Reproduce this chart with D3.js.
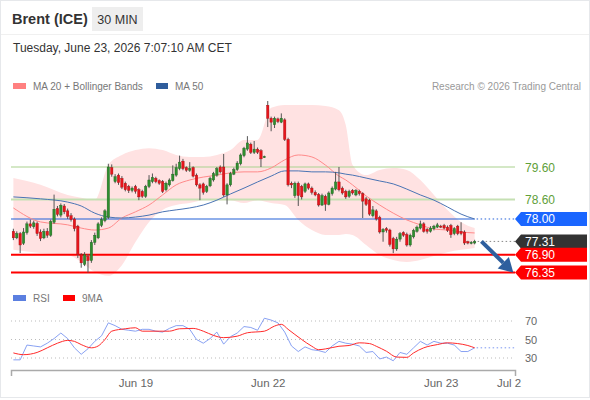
<!DOCTYPE html>
<meta charset="utf-8">
<body style="margin:0;background:#fff">
<script src="https://d3js.org/d3.v7.min.js"></script>
<script>

// ---- data ----
const open = [77.62,77.42,77.55,77.25,77.58,77.85,77.76,77.86,77.60,77.42,
  77.62,77.50,77.90,78.32,78.12,78.40,78.25,78.10,78.00,77.78,
  76.90,76.60,76.85,76.72,77.28,77.42,77.80,77.95,78.05,79.58,
  79.15,79.35,79.25,79.10,79.00,78.88,79.00,78.90,78.85,78.70,
  79.00,79.15,79.25,79.18,79.15,78.90,79.05,79.18,79.35,79.55,
  79.78,79.58,79.50,79.58,79.35,79.05,79.08,78.85,79.02,79.20,
  79.35,79.60,79.60,78.74,79.05,79.38,79.52,79.70,79.95,80.15,
  80.30,80.05,80.15,80.10,79.90,81.50,81.10,80.90,81.08,80.98,
  81.05,80.45,79.10,78.72,79.10,79.00,78.85,79.08,78.95,78.82,
  78.75,78.43,78.70,78.45,78.78,78.92,79.14,78.95,78.85,78.70,
  78.88,78.74,78.85,78.78,78.62,78.58,78.10,78.25,78.05,77.60,
  77.70,77.66,77.40,77.08,77.38,77.58,77.52,77.20,77.45,77.62,
  77.72,77.85,77.68,77.62,77.70,77.75,77.78,77.80,77.75,77.80,
  77.55,77.78,77.62,77.60,77.30,77.26,77.26];
const high = [77.70,77.62,77.60,77.72,77.92,77.98,77.95,77.92,77.68,77.70,
  77.72,77.98,78.75,78.40,78.48,78.46,78.32,78.18,78.05,77.82,
  76.95,76.98,76.92,77.35,77.58,77.90,78.05,78.30,79.70,79.68,
  79.38,79.40,79.32,79.15,79.05,79.00,79.05,78.95,78.90,79.05,
  79.35,79.40,79.30,79.22,79.20,79.15,79.25,79.65,79.70,79.95,
  79.85,79.62,79.75,79.62,79.40,79.10,79.12,79.05,79.30,79.45,
  79.60,79.65,80.00,79.10,79.45,79.58,79.78,80.02,80.22,80.55,
  80.35,80.40,80.20,80.15,79.95,81.63,81.15,81.15,81.12,81.25,
  81.10,80.50,79.15,79.15,79.15,79.05,79.12,79.12,79.00,78.88,
  78.80,78.78,78.75,78.85,79.00,79.45,79.60,79.00,78.90,78.90,
  78.92,78.92,78.90,78.82,78.68,78.62,78.40,78.30,78.10,77.72,
  77.75,77.70,77.45,77.45,77.60,77.62,77.58,77.55,77.70,77.80,
  77.95,77.90,77.72,77.78,77.82,77.88,77.82,77.85,77.80,77.85,
  77.75,77.82,77.90,77.65,77.33,77.32,77.36];
const low = [77.35,77.38,76.95,77.20,77.52,77.72,77.70,77.48,77.32,77.38,
  77.42,77.45,77.85,78.08,78.05,78.15,78.00,77.92,77.62,76.80,
  76.50,76.55,76.35,76.65,77.20,77.38,77.75,77.90,78.00,79.30,
  79.10,79.05,78.92,78.85,78.80,78.82,78.78,78.58,78.65,78.65,
  78.95,79.10,79.10,79.05,78.80,78.85,79.00,79.15,79.30,79.50,
  79.50,79.45,79.45,79.28,79.00,78.58,78.75,78.80,78.98,79.15,
  79.30,79.40,78.68,78.45,79.00,79.35,79.48,79.65,79.90,80.10,
  80.00,80.00,80.00,79.60,79.88,80.83,80.70,80.80,80.95,80.95,
  80.40,79.00,78.95,78.65,78.40,78.60,78.80,78.90,78.75,78.70,
  78.38,78.40,78.25,78.42,78.72,78.88,78.85,78.75,78.62,78.65,
  78.75,78.70,78.72,78.03,78.40,78.10,78.05,77.95,77.55,77.30,
  77.58,77.15,76.95,77.02,77.30,77.45,77.15,77.15,77.40,77.58,
  77.68,77.58,77.55,77.58,77.65,77.72,77.72,77.68,77.60,77.42,
  77.50,77.50,77.50,77.20,77.22,77.22,77.22];
const close = [77.42,77.55,77.20,77.60,77.85,77.78,77.88,77.55,77.40,77.62,
  77.50,77.92,78.30,78.14,78.42,78.22,78.08,77.98,77.70,76.90,
  76.65,76.90,76.72,77.28,77.50,77.85,77.98,78.25,79.60,79.38,
  79.30,79.12,78.98,78.90,78.88,78.95,78.85,78.68,78.70,79.00,
  79.20,79.28,79.15,79.10,78.85,79.10,79.20,79.38,79.58,79.75,
  79.55,79.50,79.55,79.32,79.05,78.95,78.82,79.00,79.25,79.40,
  79.55,79.45,78.74,79.05,79.40,79.52,79.72,79.97,80.18,80.34,
  80.05,80.15,80.05,79.85,79.92,81.10,80.98,81.10,81.00,81.10,
  80.45,79.05,79.05,79.10,78.72,78.68,79.08,78.95,78.82,78.74,
  78.43,78.72,78.45,78.80,78.95,79.14,78.90,78.80,78.68,78.85,
  78.80,78.88,78.78,78.55,78.45,78.15,78.28,78.00,77.60,77.68,
  77.65,77.22,77.08,77.38,77.55,77.50,77.20,77.50,77.65,77.75,
  77.85,77.62,77.62,77.72,77.78,77.82,77.76,77.72,77.65,77.52,
  77.70,77.55,77.55,77.26,77.26,77.28,77.31];

// indicator samples (candle index -> value)
const maIdx = [0,8,16,20,24,28,32,36,40,44,48,52,56,60,64,68,72,76,80,84,88,92,96,98,100,104,108,112,116,120,124,128,132,136];
const bbUpper = [79.26,79.05,78.74,78.65,78.58,79.66,79.97,80.12,80.18,80.12,79.97,79.91,79.91,79.97,80.12,80.43,80.43,81.42,81.51,81.51,81.51,81.48,81.35,80.89,79.66,79.35,79.51,79.57,79.51,79.20,78.74,78.28,77.91,77.72];
const bbLower = [77.05,76.95,76.89,76.68,76.37,76.25,76.58,77.29,77.91,78.28,78.43,78.49,78.58,78.58,78.58,78.49,78.58,78.49,78.43,77.97,77.66,77.51,77.51,77.54,77.51,77.20,76.89,76.74,76.68,76.74,76.86,76.98,77.05,77.11];
const ma20 = [78.34,77.91,77.82,77.72,77.66,77.72,78.03,78.22,78.43,78.74,79.05,79.20,79.29,79.35,79.42,79.45,79.45,79.57,79.82,79.97,79.91,79.66,79.32,79.20,79.05,78.71,78.43,78.18,77.97,77.82,77.69,77.66,77.60,77.57];
const ma50 = [78.68,78.62,78.52,78.40,78.18,78.06,78.03,78.06,78.12,78.22,78.28,78.34,78.43,78.58,78.77,78.95,79.14,79.32,79.48,79.48,79.45,79.45,79.42,79.38,79.35,79.26,79.17,79.08,78.92,78.74,78.58,78.37,78.15,78.00];

// RSI every second candle, 9MA sampled
const rsiStep = 2;
const rsi = [28,28,44,43,42,46,51,57,51,41,34,40,48,54,68,65,61,60,59,61,61,59,58,62,65,65,61,50,46,51,58,45,53,57,64,63,60,73,71,68,58,43,37,42,39,38,36,43,48,46,45,43,36,37,29,31,27,36,34,41,48,44,48,46,46,44,37,37,41];
const rsiMaIdx = [0,3,7,10,13,16,18,20,23,25,27,29,33,36,38,43,46,49,53,56,59,62,66,69,74,77,79,81,85,88,90,92,96,99,102,105,107,110,113,116,118,121,125,128,131,134,136];
const rsiMa = [35.5,33.6,36,41,46,49,48,44.5,41,43,50,59,61.6,62.7,59,59,59,61.6,62,59,54.4,52,53.6,57.3,59,64.5,66.4,61,50,42.7,39,39.8,42.7,43.5,46.4,45.6,42.7,37.3,31,30.7,35.5,41,44.5,46.4,45.6,43.5,41];
const rsiLevels = [70, 50, 30];

const levels = [79.60, 78.60, 78.00, 77.31, 76.90, 76.35];
const levelKind = ["res", "res", "ma", "last", "sup", "sup"];

const tickIdx = [36, 75, 126, 146];
const tickLabels = ["Jun 19", "Jun 22", "Jun 23", "Jul 2"];

const arrowFrom = [138, 77.31], arrowTo = [147.4, 76.35];

// ---- layout ----
const W = 590, H = 400;
const font = "'Liberation Sans', Arial, sans-serif";

const x = d3.scaleLinear().domain([-0.7, 147.9]).range([11, 515]);
const y = d3.scaleLinear().domain([76.35, 79.60]).range([272.6, 167]);
const yr = d3.scaleLinear().domain([30, 70]).range([358, 321]);

const svg = d3.select("body").append("svg")
    .attr("width", W).attr("height", H)
    .style("font-family", font);

svg.append("rect")
    .attr("x", 0.5).attr("y", 0.5).attr("width", W - 1).attr("height", H - 3)
    .attr("fill", "#fff").attr("stroke", "#e6e8eb");

// header
svg.append("line").attr("x1", 1).attr("x2", W - 1).attr("y1", 34.5).attr("y2", 34.5)
    .attr("stroke", "#f0f0f0");
svg.append("text").attr("x", 12).attr("y", 24)
    .attr("font-size", 14.5).attr("font-weight", "bold").attr("fill", "#333")
    .text("Brent (ICE)");
svg.append("rect").attr("x", 92).attr("y", 7).attr("width", 51).attr("height", 24)
    .attr("fill", "#eeeeee");
svg.append("text").attr("x", 117.5).attr("y", 23.5).attr("text-anchor", "middle")
    .attr("font-size", 12.5).attr("fill", "#333").text("30 MIN");
svg.append("text").attr("x", 13).attr("y", 52)
    .attr("font-size", 12).attr("fill", "#333")
    .text("Tuesday, June 23, 2026 7:07:10 AM CET");

// legends
const legend = svg.append("g").attr("font-size", 10).attr("fill", "#777");
legend.append("rect").attr("x", 13).attr("y", 83).attr("width", 13).attr("height", 6).attr("fill", "#ff8080");
legend.append("text").attr("x", 33).attr("y", 90).text("MA 20 + Bollinger Bands");
legend.append("rect").attr("x", 156).attr("y", 83).attr("width", 12).attr("height", 6).attr("fill", "#2f5d9c");
legend.append("text").attr("x", 175).attr("y", 90).text("MA 50");
legend.append("text").attr("x", 581).attr("y", 90).attr("text-anchor", "end").attr("fill", "#999")
    .text("Research \u00a9 2026 Trading Central");
legend.append("rect").attr("x", 13).attr("y", 295).attr("width", 13).attr("height", 6).attr("fill", "#5b7fe0");
legend.append("text").attr("x", 33).attr("y", 302).text("RSI");
legend.append("rect").attr("x", 63).attr("y", 295).attr("width", 12).attr("height", 6).attr("fill", "#ff0000");
legend.append("text").attr("x", 82).attr("y", 302).text("9MA");

// ---- price chart ----
const chart = svg.append("g");

const band = d3.area()
    .x((d, i) => x(maIdx[i]))
    .y0((d, i) => y(bbLower[i]))
    .y1(d => y(d))
    .curve(d3.curveMonotoneX);
chart.append("path").datum(bbUpper).attr("d", band).attr("fill", "#ffe2e2");

const levelColor = {res: "#a9d18e", ma: "#2360d8", last: "#888", sup: "#ff0000"};
levels.forEach((v, i) => {
  const k = levelKind[i];
  if (k === "last") return;
  chart.append("line")
      .attr("x1", 11).attr("x2", k === "ma" ? x(close.length - 1) : 515)
      .attr("y1", y(v)).attr("y2", y(v))
      .attr("stroke", i === 1 ? "#c5e0b3" : levelColor[k])
      .attr("stroke-width", k === "sup" ? 2 : (i === 1 ? 2 : 1.2));
});

const lineOf = arr => d3.line()
    .x((d, i) => x(maIdx[i])).y(d => y(d))
    .curve(d3.curveMonotoneX)(arr);
chart.append("path").attr("d", lineOf(ma20)).attr("fill", "none")
    .attr("stroke", "#ff8a8a").attr("stroke-width", 1);
chart.append("path").attr("d", lineOf(ma50)).attr("fill", "none")
    .attr("stroke", "#4a74b4").attr("stroke-width", 1);

// candles
const bw = 2.4;
const candles = chart.selectAll(".c").data(close).join("g");
candles.append("line")
    .attr("x1", (d, i) => x(i)).attr("x2", (d, i) => x(i))
    .attr("y1", (d, i) => y(high[i])).attr("y2", (d, i) => y(low[i]))
    .attr("stroke", "#555").attr("stroke-width", 1);
candles.append("rect")
    .attr("x", (d, i) => x(i) - bw / 2).attr("width", bw)
    .attr("y", (d, i) => y(Math.max(open[i], d)))
    .attr("height", (d, i) => Math.max(1, Math.abs(y(open[i]) - y(d))))
    .attr("fill", (d, i) => d >= open[i] ? "#2f8f2f" : "#e8141c")
    .attr("stroke", (d, i) => d >= open[i] ? "#1f5f1f" : "#a01010")
    .attr("stroke-width", 0.4);

// dotted extensions of MA50 and last price
const last = close.length - 1;
chart.append("line").attr("x1", x(last) + 2).attr("x2", 515)
    .attr("y1", y(levels[2])).attr("y2", y(levels[2]))
    .attr("stroke", "#2360d8").attr("stroke-dasharray", "1.5,2.5");
chart.append("line").attr("x1", x(last) + 3).attr("x2", 515)
    .attr("y1", y(levels[3])).attr("y2", y(levels[3]))
    .attr("stroke", "#888").attr("stroke-dasharray", "1.5,2.5");

// arrow
const ax0 = x(arrowFrom[0]), ay0 = y(arrowFrom[1]);
const ax1 = x(arrowTo[0]), ay1 = y(arrowTo[1]);
const len = Math.hypot(ax1 - ax0, ay1 - ay0);
const ux = (ax1 - ax0) / len, uy = (ay1 - ay0) / len;
const headL = 14, headW = 8;
const bx = ax1 - ux * headL, by = ay1 - uy * headL;
chart.append("line").attr("x1", ax0).attr("y1", ay0).attr("x2", bx).attr("y2", by)
    .attr("stroke", "#2e5f9e").attr("stroke-width", 4);
chart.append("path")
    .attr("d", `M${ax1},${ay1}L${bx - uy * headW},${by + ux * headW}L${bx + uy * headW},${by - ux * headW}Z`)
    .attr("fill", "#2e5f9e");

// right labels
const boxColor = {ma: "#1a66ff", last: "#333333", sup: "#ff0000"};
levels.forEach((v, i) => {
  const k = levelKind[i], yc = y(v);
  if (k === "res") {
    chart.append("text").attr("x", 525).attr("y", yc + 4.5)
        .attr("font-size", 12).attr("fill", "#5fa03a").text(v.toFixed(2));
    return;
  }
  chart.append("path")
      .attr("d", `M515,${yc}L521,${yc - 7}H587V${yc + 7}H521Z`)
      .attr("fill", boxColor[k]);
  chart.append("text").attr("x", 525).attr("y", yc + 4.5)
      .attr("font-size", 12).attr("fill", "#fff").text(v.toFixed(2));
});

// ---- RSI panel ----
const rsiG = svg.append("g");
rsiLevels.forEach(v => {
  rsiG.append("line").attr("x1", 11).attr("x2", 515).attr("y1", yr(v)).attr("y2", yr(v))
      .attr("stroke", "#bbb").attr("stroke-dasharray", "1,3");
  rsiG.append("text").attr("x", 525).attr("y", yr(v) + 4).attr("font-size", 11)
      .attr("fill", "#666").text(v);
});
rsiG.append("path")
    .attr("d", d3.line().x((d, i) => x(i * rsiStep)).y(d => yr(d))(rsi))
    .attr("fill", "none").attr("stroke", "#7b96f0").attr("stroke-width", 0.9);
rsiG.append("line").attr("x1", x(last) + 2).attr("x2", 515)
    .attr("y1", yr(rsi[rsi.length - 1])).attr("y2", yr(rsi[rsi.length - 1]))
    .attr("stroke", "#7b96f0").attr("stroke-dasharray", "1.5,2.5");
rsiG.append("path")
    .attr("d", d3.line().x((d, i) => x(rsiMaIdx[i])).y(d => yr(d)).curve(d3.curveMonotoneX)(rsiMa))
    .attr("fill", "none").attr("stroke", "#ff2a2a").attr("stroke-width", 1);

// x axis
const xAxis = d3.axisBottom(x)
    .tickValues(tickIdx)
    .tickFormat((d, i) => tickLabels[i])
    .tickSizeInner(0).tickSizeOuter(6).tickPadding(9);
const axG = svg.append("g").attr("transform", "translate(0,370)").call(xAxis);
axG.select(".domain").attr("stroke", "#aaa").attr("stroke-width", 1.5);
axG.selectAll("text").attr("font-size", 11.5).attr("fill", "#666").attr("font-family", font);

</script>
